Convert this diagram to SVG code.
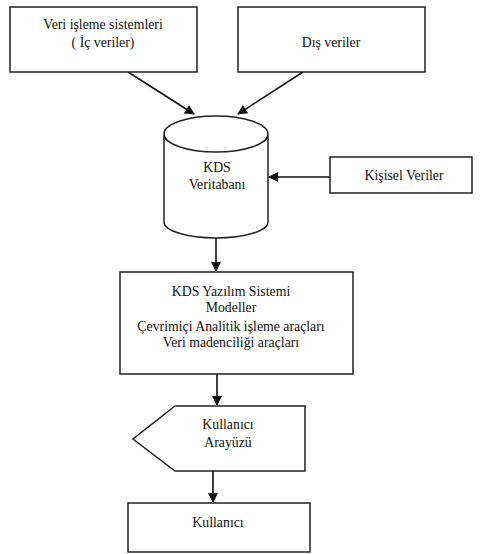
<svg xmlns="http://www.w3.org/2000/svg" width="480" height="554" viewBox="0 0 480 554">
<defs>
<marker id="ah" markerWidth="10" markerHeight="10" refX="9" refY="5" orient="auto" markerUnits="userSpaceOnUse">
<path d="M0,0 L10,5 L0,10 Z" fill="#111"/>
</marker>
<style>
.n{fill:#fff;stroke:#222;stroke-width:1.5}
.t{font-family:'Liberation Serif','Times New Roman',serif;font-size:13.8px;fill:#111;text-anchor:middle}
.c{stroke:#111;stroke-width:1.6;fill:none;marker-end:url(#ah)}
</style>
</defs>
<rect width="480" height="554" fill="#fff"/>
<g id="connectors">
<line class="c" x1="128" y1="72" x2="194" y2="114"/>
<line class="c" x1="303" y1="72" x2="238" y2="114"/>
<line class="c" x1="330" y1="177" x2="269" y2="177"/>
<line class="c" x1="216" y1="238" x2="216" y2="271"/>
<line class="c" x1="217" y1="374" x2="217" y2="405"/>
<line class="c" x1="213" y1="471" x2="213" y2="502"/>
</g>
<g font-family="Liberation Serif, Times New Roman, serif" font-size="13.8">
<g id="n1">
<rect class="n" x="10" y="7" width="187" height="65"/>
<text class="t" x="103" y="29">Veri işleme sistemleri</text>
<text class="t" x="103" y="47">( İç veriler)</text>
</g>
<g id="n2">
<rect class="n" x="238" y="7" width="187" height="65"/>
<text class="t" x="331" y="47">Dış veriler</text>
</g>
<g id="n3">
<path class="n" d="M164,134 L164,222 A52,16 0 0 0 268,222 L268,134 A52,18 0 0 0 164,134 A52,18 0 0 0 268,134"/>
<text class="t" x="217" y="172">KDS</text>
<text class="t" x="217" y="189">Veritabanı</text>
</g>
<g id="n4">
<rect class="n" x="330" y="157" width="142" height="36"/>
<text class="t" x="404" y="180">Kişisel Veriler</text>
</g>
<g id="n5">
<rect class="n" x="120" y="272" width="233" height="102"/>
<text class="t" x="231" y="296">KDS Yazılım Sistemi</text>
<text class="t" x="231" y="312">Modeller</text>
<text class="t" x="231" y="331">Çevrimiçi Analitik işleme araçları</text>
<text class="t" x="231" y="347">Veri madenciliği araçları</text>
</g>
<g id="n6">
<path class="n" d="M175,406 L305,406 L305,471 L175,471 L133,439 Z"/>
<text class="t" x="228" y="429">Kullanıcı</text>
<text class="t" x="228" y="447">Arayüzü</text>
</g>
<g id="n7">
<rect class="n" x="128" y="503" width="182" height="49"/>
<text class="t" x="218" y="527">Kullanıcı</text>
</g>
</g>
</svg>
